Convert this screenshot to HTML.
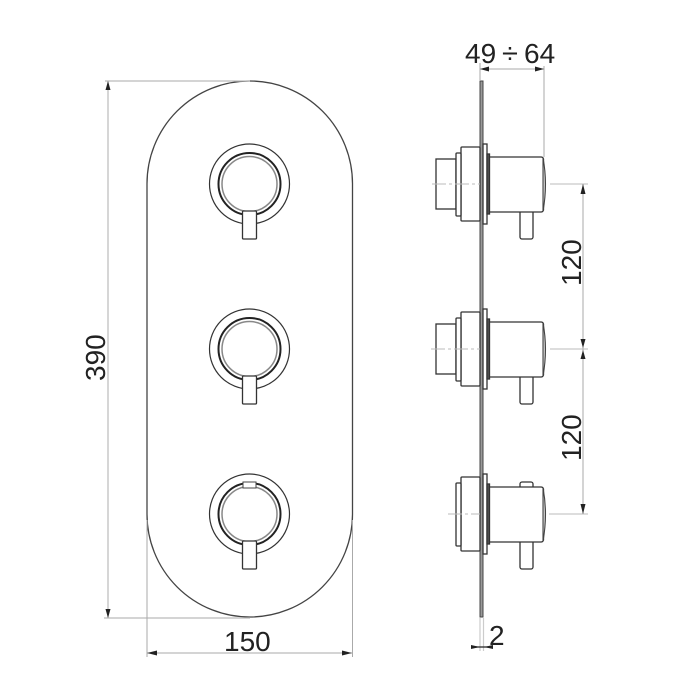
<!DOCTYPE html>
<html>
<head>
<meta charset="utf-8">
<style>
html,body{margin:0;padding:0;background:#fff;}
svg{display:block;}
text{font-family:"Liberation Sans",sans-serif;font-size:28px;fill:#222;}
</style>
</head>
<body>
<svg width="700" height="700" viewBox="0 0 700 700" xmlns="http://www.w3.org/2000/svg">
<defs>
<g id="knob">
  <circle cx="0" cy="0" r="40" fill="none" stroke="#333" stroke-width="1.2"/>
  <circle cx="0" cy="0" r="31" fill="none" stroke="#222" stroke-width="2"/>
  <circle cx="0" cy="0" r="27.5" fill="none" stroke="#888" stroke-width="1.5"/>
  <rect x="-7" y="27" width="14" height="28" rx="1" fill="#fff" stroke="#333" stroke-width="1.3"/>
</g>
<g id="side" fill="#fff" stroke="#333" stroke-width="1.3">
  <rect x="461" y="-37" width="19" height="74" rx="1"/>
  <rect x="456" y="-31" width="5" height="63" rx="1"/>
  <rect x="483" y="-40" width="4" height="80"/>
  <rect x="487" y="-30" width="2.5" height="60" fill="#555"/>
  <path d="M489.5 -27 H541 Q543 -27 543.5 -25 V26 Q543 28 541 28 H489.5 Z"/>
  <path d="M543 -26 Q548 0 543 27 Z" fill="#ccc" stroke="#444" stroke-width="1.1"/>
</g>
</defs>

<!-- plate front -->
<rect x="147" y="81" width="205.5" height="536" rx="102.75" ry="102.75" fill="#fff" stroke="#444" stroke-width="1.3"/>

<use href="#knob" x="249.5" y="184"/>
<use href="#knob" x="249.5" y="349"/>
<use href="#knob" x="249.5" y="514"/>
<rect x="243" y="482" width="13" height="6" fill="#fff" stroke="#444" stroke-width="1"/>

<!-- left dims -->
<g stroke="#bbb" stroke-width="1.2" fill="none">
  <path d="M105 81 H250"/>
  <path d="M104 618 H250"/>
  <path d="M108 81 V618"/>
</g>
<path d="M108 81 L105.5 90 H110.5 Z" fill="#222"/>
<path d="M108 618 L105.5 609 H110.5 Z" fill="#222"/>

<!-- bottom dims -->
<g stroke="#aaa" stroke-width="1" fill="none">
  <path d="M147 520 V657"/>
  <path d="M352.5 520 V657"/>
  <path d="M147 653 H352.5"/>
</g>
<path d="M147 653 L157 650.5 V655.5 Z" fill="#222"/>
<path d="M352 653 L342 650.5 V655.5 Z" fill="#222"/>

<!-- side plate -->
<rect x="480" y="81" width="3" height="536" fill="#999" stroke="#444" stroke-width="1"/>

<!-- side units -->
<g stroke="#333" stroke-width="1.3" fill="#fff">
  <rect x="436" y="159" width="20" height="50"/>
  <rect x="436" y="324" width="20" height="50"/>
  <rect x="520" y="210" width="13" height="29" rx="2"/>
  <rect x="520" y="375" width="13" height="29" rx="2"/>
  <rect x="520" y="540" width="13" height="29" rx="2"/>
  <rect x="520" y="482" width="13" height="9" rx="2"/>
</g>
<use href="#side" x="0" y="184"/>
<use href="#side" x="0" y="349"/>
<use href="#side" x="0" y="514"/>

<!-- centre lines -->
<g stroke="#bbb" stroke-width="1" fill="none">
  <path d="M432 184 H480" stroke-dasharray="14 3 3 3"/>
  <path d="M431 349 H480" stroke-dasharray="14 3 3 3"/>
  <path d="M448 514 H480" stroke-dasharray="14 3 3 3"/>
  <path d="M550 184 H588"/>
  <path d="M550 349 H588"/>
  <path d="M549 514 H588"/>
  <path d="M583 184 V514" stroke="#aaa"/>
  <path d="M480 63 V81" stroke="#aaa"/>
  <path d="M544 66 V157" stroke="#aaa"/>
  <path d="M480 69 H544" stroke="#aaa"/>
</g>
<g fill="#222">
  <path d="M480 69 L489 66.5 V71.5 Z"/>
  <path d="M544 69 L535 66.5 V71.5 Z"/>
  <path d="M583 184 L580.5 194 H585.5 Z"/>
  <path d="M583 348 L580.5 339 H585.5 Z"/>
  <path d="M583 350 L580.5 359 H585.5 Z"/>
  <path d="M583 514 L580.5 504 H585.5 Z"/>
</g>

<!-- 2 dim -->
<g stroke="#ccc" stroke-width="1.2" fill="none">
  <path d="M480 618 V651"/>
  <path d="M483.5 618 V651"/>
</g>
<path d="M472 647 H492" stroke="#222" stroke-width="1.2"/>
<path d="M480 647 L471 645 V649 Z" fill="#222"/>
<path d="M484 647 L493 645 V649 Z" fill="#222"/>

<!-- labels -->
<text x="465" y="63">49</text>
<text x="502" y="63" style="font-size:29px">÷</text>
<text x="524" y="63">64</text>
<text x="224" y="651">150</text>
<text x="489" y="645">2</text>
<text transform="translate(105 381) rotate(-90)">390</text>
<text transform="translate(581 286) rotate(-90)">120</text>
<text transform="translate(581 461) rotate(-90)">120</text>
</svg>
</body>
</html>
